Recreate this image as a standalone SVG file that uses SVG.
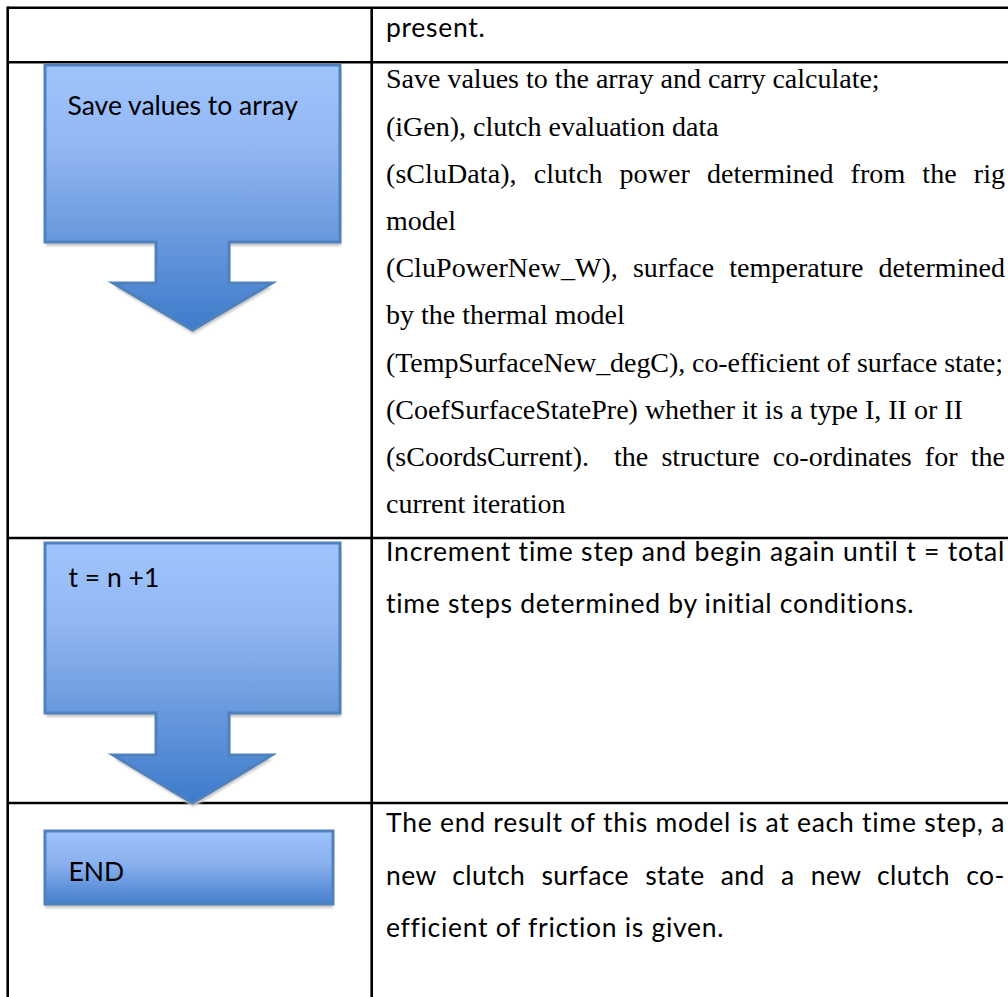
<svg xmlns="http://www.w3.org/2000/svg" width="1008" height="997" viewBox="0 0 1008 997">
  <defs>
    <!-- vertical blue gradient shared by the down-arrow callouts -->
    <linearGradient id="calloutFill" x1="0" y1="0" x2="0" y2="1">
      <stop offset="0" stop-color="#9fc4fd"/>
      <stop offset="0.3" stop-color="#93b7f3"/>
      <stop offset="0.66" stop-color="#6898dc"/>
      <stop offset="1" stop-color="#3d7bcb"/>
    </linearGradient>
    <linearGradient id="boxFill" x1="0" y1="0" x2="0" y2="1">
      <stop offset="0" stop-color="#9ec2fc"/>
      <stop offset="0.45" stop-color="#8ab0ee"/>
      <stop offset="1" stop-color="#4580cc"/>
    </linearGradient>
    <filter id="softShadow" x="-5%" y="-5%" width="110%" height="115%">
      <feGaussianBlur stdDeviation="1.2"/>
    </filter>
    <!-- down-arrow callout outlines -->
    <path id="callout-save" d="M45,65 H340 V242 H229 V283 H272 L192.5,330 L113,283 H156 V242 H45 Z"/>
    <path id="callout-inc" d="M45,543 H340 V713 H229 V755 H272 L192.5,803 L113,755 H156 V713 H45 Z"/>
    <rect id="box-end" x="45" y="831" width="288" height="73"/>
  </defs>
  <style>
    .grid { stroke: #000; stroke-width: 2.6; fill: none; }
    .shadow { fill: #c8c8c8; filter: url(#softShadow); }
    .callout { fill: url(#calloutFill); stroke: #4f81bd; stroke-width: 3; }
    .box { fill: url(#boxFill); stroke: #4f81bd; stroke-width: 3; }
    .label { font-family: Lato, "Liberation Sans", sans-serif; font-size: 26.5px; fill: #000; }
    .sans { font-family: Lato, "Liberation Sans", sans-serif; font-size: 26.5px; letter-spacing: 0.7px; fill: #000; }
    .serif { font-family: "Liberation Serif", "DejaVu Serif", serif; font-size: 28px; fill: #000; }
  </style>

  <rect x="0" y="0" width="1008" height="997" fill="#fff"/>

  <!-- table rules -->
  <g id="table-grid" class="grid">
    <line x1="7.7" y1="7.7" x2="1008" y2="7.7"/>
    <line x1="7.7" y1="6.4" x2="7.7" y2="997"/>
    <line x1="371.7" y1="7.7" x2="371.7" y2="997"/>
    <line x1="7.7" y1="62.3" x2="1008" y2="62.3"/>
    <line x1="7.7" y1="538" x2="1008" y2="538"/>
    <line x1="7.7" y1="803" x2="1008" y2="803"/>
  </g>

  <!-- flow steps -->
  <g id="node-save-values">
    <use href="#callout-save" class="shadow" transform="translate(1,4)"/>
    <use href="#callout-save" class="callout"/>
    <text class="label" x="67.5" y="115">Save values to array</text>
  </g>

  <g id="node-increment">
    <use href="#callout-inc" class="shadow" transform="translate(1,4)"/>
    <use href="#callout-inc" class="callout"/>
    <text class="label" x="68.5" y="587">t = n +1</text>
  </g>

  <g id="node-end">
    <use href="#box-end" class="shadow" transform="translate(0,4)"/>
    <use href="#box-end" class="box"/>
    <text class="label" x="68.5" y="881">END</text>
  </g>

  <!-- description column -->
  <g id="desc-row1">
    <text class="sans" x="386" y="37">present.</text>
  </g>

  <g id="desc-row2" class="serif">
    <text x="386" y="88.3">Save values to the array and carry calculate;</text>
    <text x="386" y="135.5">(iGen), clutch evaluation data</text>
    <text x="386" y="182.7" textLength="619" lengthAdjust="spacing" word-spacing="10">(sCluData), clutch power determined from the rig</text>
    <text x="386" y="229.9">model</text>
    <text x="386" y="277.1" textLength="619" lengthAdjust="spacing" word-spacing="8">(CluPowerNew_W), surface temperature determined</text>
    <text x="386" y="324.3">by the thermal model</text>
    <text x="386" y="371.5" textLength="617" lengthAdjust="spacing">(TempSurfaceNew_degC), co-efficient of surface state;</text>
    <text x="386" y="418.7">(CoefSurfaceStatePre) whether it is a type I, II or II</text>
    <text x="386" y="465.9">(sCoordsCurrent).</text>
    <text x="614" y="465.9" textLength="391" lengthAdjust="spacing" word-spacing="6">the structure co-ordinates for the</text>
    <text x="386" y="513.1">current iteration</text>
  </g>

  <g id="desc-row3" class="sans">
    <text x="386" y="561" textLength="619" lengthAdjust="spacing">Increment time step and begin again until t = total</text>
    <text x="386" y="613.3">time steps determined by initial conditions.</text>
  </g>

  <g id="desc-row4" class="sans">
    <text x="386" y="831.7" textLength="619" lengthAdjust="spacing">The end result of this model is at each time step, a</text>
    <text x="386" y="884.5" textLength="619" lengthAdjust="spacing" word-spacing="9">new clutch surface state and a new clutch co-</text>
    <text x="386" y="936.7">efficient of friction is given.</text>
  </g>
</svg>
